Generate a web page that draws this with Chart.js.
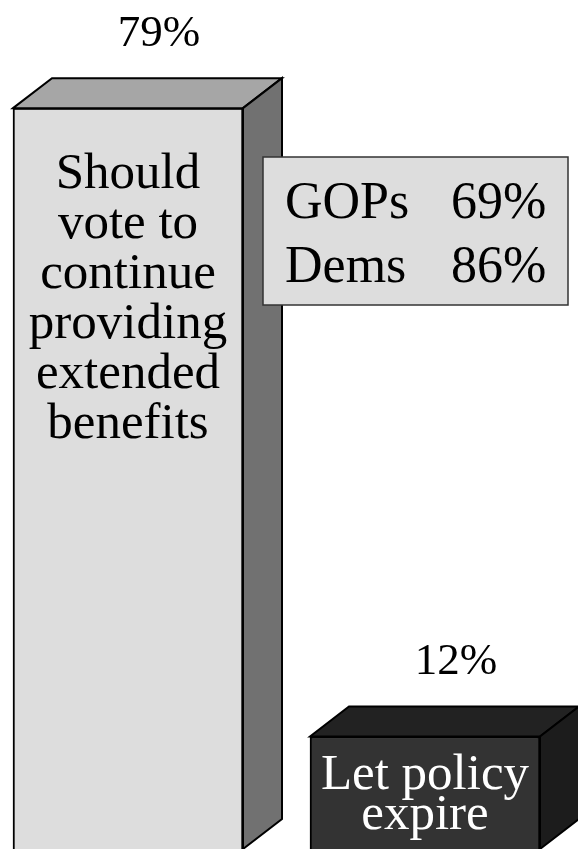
<!DOCTYPE html>
<html>
<head>
<meta charset="utf-8">
<script src="https://cdn.jsdelivr.net/npm/chart.js@4/dist/chart.umd.min.js"></script>
<style>
  html, body { margin: 0; padding: 0; background: #fff; overflow: hidden; }
  canvas { display: block; }
</style>
</head>
<body>
<canvas id="chart" width="578" height="849"></canvas>
<script>
// ---------- DATA ----------
const categories  = ["Should vote to continue providing extended benefits", "Let policy expire"];
const barLines    = [["Should", "vote to", "continue", "providing", "extended", "benefits"], ["Let policy", "expire"]];
const shares      = [79, 12];
const partyNames  = ["GOPs", "Dems"];
const partyShares = [69, 86];

// ---------- STYLE ----------
const frontColors = ["#dddddd", "#333333"];
const topColors   = ["#a6a6a6", "#222222"];
const sideColors  = ["#717171", "#1c1c1c"];
const textColors  = ["#000000", "#ffffff"];
const lineGaps    = [50, 40];
const DX = 39, DY = 30;
const SERIF = '"Liberation Serif", "Times New Roman", serif';

function poly(ctx, pts, fill) {
  ctx.beginPath();
  ctx.moveTo(pts[0][0], pts[0][1]);
  for (let k = 1; k < pts.length; k++) ctx.lineTo(pts[k][0], pts[k][1]);
  ctx.closePath();
  ctx.fillStyle = fill;
  ctx.fill();
  ctx.stroke();
}

// draws the top and side faces of each bar, the labels, and the party box
const cube3d = {
  id: "cube3d",
  afterDatasetsDraw(chart) {
    const ctx  = chart.ctx;
    const meta = chart.getDatasetMeta(0);
    meta.data.forEach((bar, i) => {
      const { x, y, base, width } = bar.getProps(["x", "y", "base", "width"], true);
      const l = x - width / 2, r = x + width / 2;
      ctx.save();
      ctx.lineWidth   = 2;
      ctx.strokeStyle = "#000";
      ctx.lineJoin    = "miter";
      poly(ctx, [[l, y], [l + DX, y - DY], [r + DX, y - DY], [r, y]], topColors[i]);
      poly(ctx, [[r, y], [r + DX, y - DY], [r + DX, base - DY], [r, base]], sideColors[i]);

      // value above the bar
      ctx.fillStyle    = "#000";
      ctx.font         = "45px " + SERIF;
      ctx.textAlign    = "center";
      ctx.textBaseline = "alphabetic";
      ctx.fillText(shares[i] + "%", x + 31, y - 62);

      // category text inside the bar
      ctx.fillStyle = textColors[i];
      ctx.font      = "51px " + SERIF;
      const first   = i === 0 ? y + 80 : y + 53;
      barLines[i].forEach((line, j) => ctx.fillText(line, x, first + j * lineGaps[i]));
      ctx.restore();
    });

    // party breakdown box
    ctx.save();
    ctx.fillStyle   = "#dddddd";
    ctx.strokeStyle = "#333";
    ctx.lineWidth   = 1.5;
    ctx.fillRect(263, 157, 305, 148);
    ctx.strokeRect(263, 157, 305, 148);
    ctx.fillStyle    = "#000";
    ctx.font         = "52px " + SERIF;
    ctx.textAlign    = "left";
    ctx.textBaseline = "alphabetic";
    partyNames.forEach((name, j) => {
      ctx.fillText(name, 285, 218 + j * 64);
      ctx.fillText(partyShares[j] + "%", 451, 218 + j * 64);
    });
    ctx.restore();
  }
};

// ---------- CHART ----------
new Chart(document.getElementById("chart").getContext("2d"), {
  type: "bar",
  data: {
    labels: categories,
    datasets: [{
      data: shares,
      backgroundColor: frontColors,
      borderColor: "#000",
      borderWidth: 2,
      borderSkipped: "start",
      barThickness: 230,
      clip: false
    }]
  },
  options: {
    responsive: false,
    animation: false,
    layout: { padding: { left: 128, right: 153, top: 5, bottom: -2 } },
    plugins: { legend: { display: false }, tooltip: { enabled: false } },
    scales: {
      x: { display: false, offset: false, grid: { offset: false } },
      y: { display: false, min: 0, max: 90 }
    }
  },
  plugins: [cube3d]
});
</script>
</body>
</html>
